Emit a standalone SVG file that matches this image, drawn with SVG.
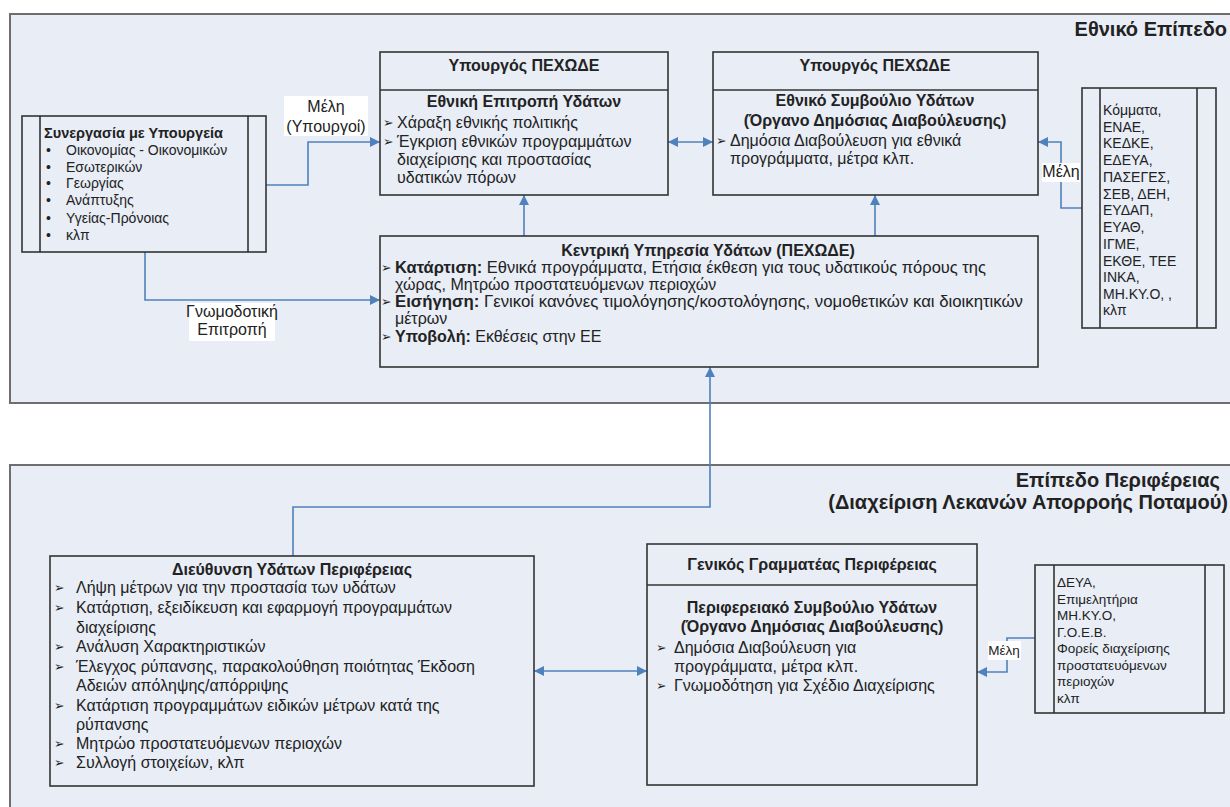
<svg xmlns="http://www.w3.org/2000/svg" width="1230" height="807" viewBox="0 0 1230 807">
<defs>
<style>
.panel{fill:#e8edf6;stroke:#6e6e6e;stroke-width:2}
.box{fill:#e8edf6;stroke:#333;stroke-width:1.6}
.ln{stroke:#333;stroke-width:1.6;fill:none}
.con{fill:none;stroke:#4f81bd;stroke-width:1.6}
.lbl{fill:#fff}
text{font-family:"Liberation Sans",Arial,sans-serif;fill:#222}
.t{font-size:16px}
.tb{font-size:16px;font-weight:bold}
.s{font-size:14px}
.sb{font-size:14.5px;font-weight:bold}
.xs{font-size:13.5px}
.big{font-size:20px;font-weight:bold}
.bul{font-family:"DejaVu Sans",sans-serif;font-size:12.5px;fill:#222}
.c{text-anchor:middle}
.e{text-anchor:end}
</style>
<marker id="ah" viewBox="0 0 10 10" refX="10" refY="5" markerWidth="12" markerHeight="10" markerUnits="userSpaceOnUse" orient="auto-start-reverse">
<path d="M0,0 L10,5 L0,10 z" fill="#4f81bd"/>
</marker>
</defs>
<rect width="1230" height="807" fill="#fff"/>
<g id="panel-national">
<rect class="panel" x="10" y="14" width="1240" height="389"/>
<text class="big e" x="1227" y="36">Εθνικό Επίπεδο</text>
</g>
<g id="panel-regional">
<rect class="panel" x="10" y="465" width="1240" height="360"/>
<text class="big e" x="1220" y="487">Επίπεδο Περιφέρειας</text>
<text class="big e" x="1228" y="509">(Διαχείριση Λεκανών Απορροής Ποταμού)</text>
</g>
<g id="connectors">
<path class="con" d="M266,185 H308 V142 H380" marker-end="url(#ah)"/>
<path class="con" d="M145,252 V300 H380" marker-end="url(#ah)"/>
<path class="con" d="M668,142 H713" marker-start="url(#ah)" marker-end="url(#ah)"/>
<path class="con" d="M524,236 V195" marker-end="url(#ah)"/>
<path class="con" d="M875,236 V195" marker-end="url(#ah)"/>
<path class="con" d="M1082,208 H1061 V142 H1038" marker-end="url(#ah)"/>
<path class="con" d="M293,557 V507 H710 V367" marker-end="url(#ah)"/>
<path class="con" d="M534,671 H647" marker-start="url(#ah)" marker-end="url(#ah)"/>
<path class="con" d="M1035,638 H1007 V672 H977" marker-end="url(#ah)"/>
<rect class="lbl" x="284" y="96" width="84" height="40"/>
<text class="t c" x="326" y="112">Μέλη</text>
<text class="t c" x="326" y="132">(Υπουργοί)</text>
<rect class="lbl" x="189" y="303" width="86" height="38"/>
<text class="t c" x="232" y="317">Γνωμοδοτική</text>
<text class="t c" x="232" y="335">Επιτροπή</text>
<rect class="lbl" x="1042" y="163" width="38" height="19"/>
<text class="t c" x="1061" y="177">Μέλη</text>
<rect class="lbl" x="988" y="641" width="33" height="19"/>
<text class="xs c" x="1004" y="655">Μέλη</text>
</g>
<g id="node-synergasia">
<rect class="box" x="22" y="116" width="244" height="136"/>
<path class="ln" d="M40,116 V252 M248,116 V252"/>
<text class="sb" x="44" y="138">Συνεργασία με Υπουργεία</text>
<g class="s">
<text x="46" y="155">•</text><text x="66" y="155">Οικονομίας - Οικονομικών</text>
<text x="46" y="172">•</text><text x="66" y="172">Εσωτερικών</text>
<text x="46" y="188">•</text><text x="66" y="188">Γεωργίας</text>
<text x="46" y="205">•</text><text x="66" y="205">Ανάπτυξης</text>
<text x="46" y="223">•</text><text x="66" y="223">Υγείας-Πρόνοιας</text>
<text x="46" y="240">•</text><text x="66" y="240">κλπ</text>
</g>
</g>
<g id="node-epitropi">
<rect class="box" x="380" y="52" width="288" height="143"/>
<path class="ln" d="M380,90 H668"/>
<text class="tb c" x="524" y="71">Υπουργός ΠΕΧΩΔΕ</text>
<text class="tb c" x="524" y="107">Εθνική Επιτροπή Υδάτων</text>
<text class="bul" x="383" y="127">➢</text>
<text class="t" x="397" y="128">Χάραξη εθνικής πολιτικής</text>
<text class="bul" x="383" y="146">➢</text>
<text class="t" x="397" y="147">Έγκριση εθνικών προγραμμάτων</text>
<text class="t" x="397" y="165">διαχείρισης και προστασίας</text>
<text class="t" x="397" y="183">υδατικών πόρων</text>
</g>
<g id="node-symvoulio">
<rect class="box" x="713" y="52" width="325" height="143"/>
<path class="ln" d="M713,90 H1038"/>
<text class="tb c" x="875" y="71">Υπουργός ΠΕΧΩΔΕ</text>
<text class="tb c" x="875" y="106">Εθνικό Συμβούλιο Υδάτων</text>
<text class="tb c" x="875" y="126">(Όργανο Δημόσιας Διαβούλευσης)</text>
<text class="bul" x="716" y="145">➢</text>
<text class="t" x="730" y="146">Δημόσια Διαβούλευση για εθνικά</text>
<text class="t" x="730" y="164">προγράμματα, μέτρα κλπ.</text>
</g>
<g id="node-meli-national">
<rect class="box" x="1082" y="88" width="134" height="240"/>
<path class="ln" d="M1100,88 V328 M1197,88 V328"/>
<g class="s">
<text x="1103" y="115">Κόμματα,</text>
<text x="1103" y="131.5">ΕΝΑΕ,</text>
<text x="1103" y="148">ΚΕΔΚΕ,</text>
<text x="1103" y="165">ΕΔΕΥΑ,</text>
<text x="1103" y="182">ΠΑΣΕΓΕΣ,</text>
<text x="1103" y="198.5">ΣΕΒ, ΔΕΗ,</text>
<text x="1103" y="215">ΕΥΔΑΠ,</text>
<text x="1103" y="232">ΕΥΑΘ,</text>
<text x="1103" y="249">ΙΓΜΕ,</text>
<text x="1103" y="265.5">ΕΚΘΕ, ΤΕΕ</text>
<text x="1103" y="282">ΙΝΚΑ,</text>
<text x="1103" y="299">ΜΗ.ΚΥ.Ο, ,</text>
<text x="1103" y="315">κλπ</text>
</g>
</g>
<g id="node-kentriki">
<rect class="box" x="380" y="236" width="658" height="131"/>
<text class="tb c" x="708" y="256">Κεντρική Υπηρεσία Υδάτων (ΠΕΧΩΔΕ)</text>
<text class="bul" x="381" y="272">➢</text>
<text class="t" x="395" y="273" textLength="591" lengthAdjust="spacingAndGlyphs"><tspan font-weight="bold">Κατάρτιση:</tspan> Εθνικά προγράμματα, Ετήσια έκθεση για τους υδατικούς πόρους της</text>
<text class="t" x="395" y="290">χώρας, Μητρώο προστατευόμενων περιοχών</text>
<text class="bul" x="381" y="306">➢</text>
<text class="t" x="395" y="307" textLength="628" lengthAdjust="spacingAndGlyphs"><tspan font-weight="bold">Εισήγηση:</tspan> Γενικοί κανόνες τιμολόγησης/κοστολόγησης, νομοθετικών και διοικητικών</text>
<text class="t" x="395" y="324">μέτρων</text>
<text class="bul" x="381" y="341">➢</text>
<text class="t" x="395" y="342"><tspan font-weight="bold">Υποβολή:</tspan> Εκθέσεις στην ΕΕ</text>
</g>
<g id="node-dieythynsi">
<rect class="box" x="50" y="556" width="484" height="230"/>
<text class="tb c" x="292" y="575">Διεύθυνση Υδάτων Περιφέρειας</text>
<text class="bul" x="54" y="592">➢</text>
<text class="t" x="76" y="593">Λήψη μέτρων για την προστασία των υδάτων</text>
<text class="bul" x="54" y="612">➢</text>
<text class="t" x="76" y="613">Κατάρτιση, εξειδίκευση και εφαρμογή προγραμμάτων</text>
<text class="t" x="76" y="633">διαχείρισης</text>
<text class="bul" x="54" y="651">➢</text>
<text class="t" x="76" y="652">Ανάλυση Χαρακτηριστικών</text>
<text class="bul" x="54" y="671">➢</text>
<text class="t" x="76" y="672">Έλεγχος ρύπανσης, παρακολούθηση ποιότητας Έκδοση</text>
<text class="t" x="76" y="691">Αδειών απόληψης/απόρριψης</text>
<text class="bul" x="54" y="710">➢</text>
<text class="t" x="76" y="711">Κατάρτιση προγραμμάτων ειδικών μέτρων κατά της</text>
<text class="t" x="76" y="730">ρύπανσης</text>
<text class="bul" x="54" y="748">➢</text>
<text class="t" x="76" y="749">Μητρώο προστατευόμενων περιοχών</text>
<text class="bul" x="54" y="767">➢</text>
<text class="t" x="76" y="768">Συλλογή στοιχείων, κλπ</text>
</g>
<g id="node-genikos">
<rect class="box" x="647" y="544" width="330" height="241"/>
<path class="ln" d="M647,585 H977"/>
<text class="tb c" x="812" y="570">Γενικός Γραμματέας Περιφέρειας</text>
<text class="tb c" x="812" y="613">Περιφερειακό Συμβούλιο Υδάτων</text>
<text class="tb c" x="812" y="632">(Όργανο Δημόσιας Διαβούλευσης)</text>
<text class="bul" x="656" y="652">➢</text>
<text class="t" x="674" y="653">Δημόσια Διαβούλευση για</text>
<text class="t" x="674" y="672">προγράμματα, μέτρα κλπ.</text>
<text class="bul" x="656" y="690">➢</text>
<text class="t" x="674" y="691">Γνωμοδότηση για Σχέδιο Διαχείρισης</text>
</g>
<g id="node-meli-regional">
<rect class="box" x="1035" y="565" width="189" height="148"/>
<path class="ln" d="M1054,565 V713 M1205,565 V713"/>
<g class="xs">
<text x="1057" y="587">ΔΕΥΑ,</text>
<text x="1057" y="603.5">Επιμελητήρια</text>
<text x="1057" y="620">ΜΗ.ΚΥ.Ο,</text>
<text x="1057" y="636.5">Γ.Ο.Ε.Β.</text>
<text x="1057" y="653">Φορείς διαχείρισης</text>
<text x="1057" y="669.5">προστατευόμενων</text>
<text x="1057" y="686">περιοχών</text>
<text x="1057" y="702.5">κλπ</text>
</g>
</g>
</svg>
